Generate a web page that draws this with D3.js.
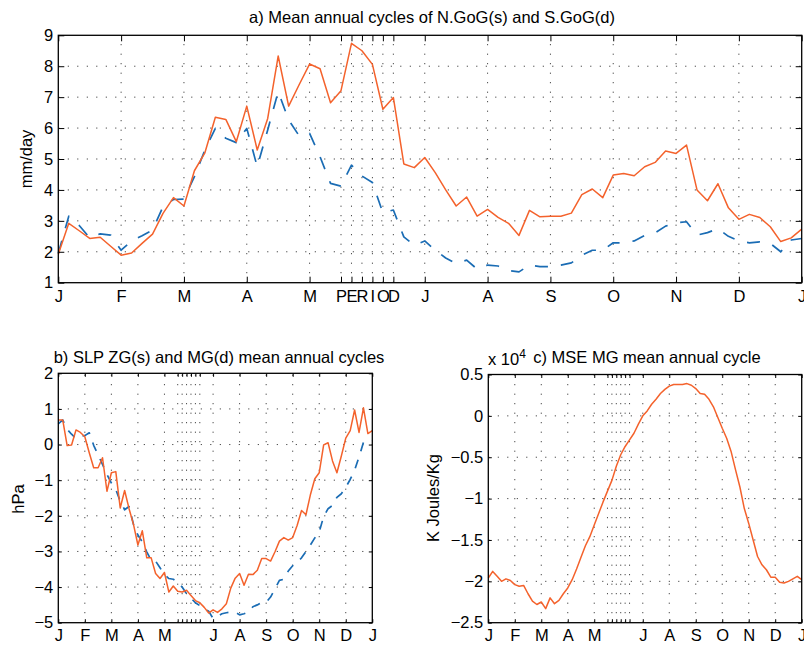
<!DOCTYPE html>
<html><head><meta charset="utf-8">
<script src="https://cdn.jsdelivr.net/npm/d3@7"></script>
<style>
body{margin:0;background:#fff}
svg{display:block}
text{font-family:"Liberation Sans",Arial,Helvetica,sans-serif;fill:#000}
</style>
</head><body>
<svg id="chart" width="804" height="645"></svg>
<script>
// ---- data: 72 sub-monthly steps (index 0..71) ----
const tickPos = [0,6,12,18,24,27,28,29,30,31,32,35,41,47,53,59,65,71];
const tickLabelsA = ["J","F","M","A","M","P","E","R","I","O","D","J","A","S","O","N","D","J"];
const tickLabelsBC = ["J","F","M","A","M","","","","","","","J","A","S","O","N","D","J"];

// a) rainfall mm/day
const nGoG = [1.92,2.92,2.68,2.43,2.47,2.18,1.89,1.96,2.27,2.57,
  3.24,3.75,3.48,4.62,5.20,6.35,6.28,5.56,6.71,5.29,
  6.31,8.33,6.71,7.40,8.07,7.92,6.82,7.21,8.74,8.50,
  8.06,6.61,6.99,4.84,4.72,5.05,4.56,4.00,3.48,3.77,
  3.15,3.37,3.11,2.92,2.53,3.34,3.13,3.15,3.15,3.25,
  3.85,4.03,3.75,4.48,4.53,4.46,4.75,4.89,5.26,5.18,
  5.45,4.00,3.65,4.20,3.42,3.05,3.21,3.11,2.81,2.33,
  2.45,2.73];
const sGoG = [1.95,3.15,2.85,2.45,2.58,2.54,2.05,2.35,2.52,2.70,
  3.46,3.69,3.70,4.43,5.29,5.99,5.67,5.53,5.99,4.75,
  5.94,7.18,6.26,5.75,5.83,5.07,4.21,4.12,4.80,4.45,
  4.24,3.26,3.35,2.48,2.21,2.35,2.05,1.80,1.62,1.73,
  1.44,1.57,1.54,1.39,1.35,1.57,1.52,1.52,1.57,1.64,
  1.89,2.05,2.05,2.29,2.29,2.35,2.53,2.61,2.83,2.94,
  2.97,2.54,2.62,2.75,2.50,2.35,2.29,2.32,2.27,2.00,
  2.38,2.43];
const yTicksA = [1,2,3,4,5,6,7,8,9];

// b) SLP hPa
const slpZG = [0.69,0.69,-0.03,-0.01,0.41,0.34,0.22,-0.23,-0.65,-0.65,
  -0.37,-1.31,-0.79,-0.76,-1.78,-1.29,-1.80,-2.24,-2.82,-2.42,
  -3.18,-3.18,-3.62,-3.76,-3.59,-4.14,-3.97,-4.12,-4.14,-4.09,
  -4.24,-4.38,-4.44,-4.57,-4.73,-4.64,-4.71,-4.61,-4.47,-4.03,
  -3.75,-3.62,-3.95,-3.64,-3.65,-3.53,-3.20,-3.20,-3.27,-3.01,
  -2.71,-2.61,-2.68,-2.61,-2.27,-1.85,-1.97,-1.41,-0.96,-0.79,
  -0.01,0.05,-0.46,-0.79,-0.32,0.18,0.39,0.97,0.34,1.03,
  0.31,0.39];
const slpMG = [0.58,0.69,0.43,0.29,0.17,0.23,0.25,0.33,-0.02,-0.29,
  -0.56,-0.84,-1.08,-1.26,-1.59,-1.83,-1.74,-2.24,-2.54,-2.73,
  -3.01,-3.25,-3.27,-3.46,-3.65,-3.76,-3.78,-3.86,-4.00,-4.19,
  -4.31,-4.44,-4.52,-4.61,-4.68,-4.88,-4.82,-4.75,-4.72,-4.70,
  -4.70,-4.78,-4.75,-4.70,-4.55,-4.50,-4.43,-4.43,-4.28,-4.05,
  -3.81,-3.78,-3.55,-3.40,-3.30,-3.18,-3.00,-2.82,-2.62,-2.45,
  -2.02,-1.80,-1.71,-1.48,-1.38,-1.20,-0.98,-0.72,-0.35,0.06,
  0.06,0.10];
const yTicksB = [-5,-4,-3,-2,-1,0,1,2];

// c) MSE, in units of 10^4 K Joules/Kg
const mseMG = [-1.96,-1.88,-1.94,-2.00,-1.97,-1.99,-2.04,-2.06,-2.05,-2.15,
  -2.24,-2.28,-2.25,-2.33,-2.20,-2.27,-2.23,-2.15,-2.08,-1.98,
  -1.85,-1.71,-1.57,-1.46,-1.32,-1.18,-1.04,-0.91,-0.78,-0.61,
  -0.47,-0.37,-0.29,-0.21,-0.10,0.00,0.06,0.14,0.20,0.27,
  0.32,0.36,0.38,0.38,0.38,0.39,0.37,0.33,0.27,0.26,
  0.20,0.11,-0.02,-0.15,-0.27,-0.43,-0.65,-0.86,-1.12,-1.30,
  -1.50,-1.70,-1.80,-1.86,-1.95,-1.95,-2.01,-2.02,-2.00,-1.97,
  -1.94,-1.98];
const yTicksC = [-2.5,-2,-1.5,-1,-0.5,0,0.5];

// ---- drawing ----
const ORANGE = "#f4622c", BLUE = "#1a6cb4";
const svg = d3.select("#chart");
const FS = 16.5;
const minus = s => String(s).replace("-", "\u2212");

function panel(o) {
  const x = d3.scaleLinear().domain([0,71]).range([o.l, o.r]);
  const y = d3.scaleLinear().domain(o.yDom).range([o.b, o.t]);
  const g = svg.append("g");
  // grid
  const gg = g.append("g").attr("stroke","#222").attr("stroke-width",1).attr("stroke-dasharray","1,8.5");
  tickPos.filter(d => d > 0 && d < 71).forEach(d => {
    gg.append("line").attr("x1",x(d)).attr("x2",x(d)).attr("y1",o.b).attr("y2",o.t);
  });
  o.yTicks.filter(d => d > o.yDom[0] && d < o.yDom[1]).forEach(d => {
    gg.append("line").attr("x1",o.l).attr("x2",o.r).attr("y1",y(d)).attr("y2",y(d));
  });
  // series
  const line = d3.line().x((d,i) => x(i)).y(d => y(d));
  o.series.forEach(s => {
    g.append("path").datum(s.v).attr("d", line).attr("fill","none")
      .attr("stroke", s.c).attr("stroke-width", s.w)
      .attr("stroke-dasharray", s.dash || null).attr("stroke-linejoin","round");
  });
  // axes
  const tl = o.tl;
  const ax = (gen, tr) => {
    const a = g.append("g").attr("transform", tr).call(gen);
    a.select(".domain").remove();
    a.selectAll(".tick line").attr("stroke","#000").attr("stroke-width",1);
    a.selectAll("text").attr("font-size", FS).attr("font-family","Liberation Sans, Arial, sans-serif").attr("fill","#000");
    return a;
  };
  ax(d3.axisBottom(x).tickValues(tickPos).tickFormat((d,i) => o.xLab[i]).tickSize(-tl).tickPadding(o.xPad),
     `translate(0,${o.b})`);
  ax(d3.axisTop(x).tickValues(tickPos).tickFormat("").tickSize(-tl), `translate(0,${o.t})`);
  ax(d3.axisLeft(y).tickValues(o.yTicks).tickFormat(d => minus(d)).tickSize(-tl).tickPadding(5),
     `translate(${o.l},0)`);
  ax(d3.axisRight(y).tickValues(o.yTicks).tickFormat("").tickSize(-tl), `translate(${o.r},0)`);
  g.append("rect").attr("x",o.l).attr("y",o.t).attr("width",o.r-o.l).attr("height",o.b-o.t)
    .attr("fill","none").attr("stroke","#000").attr("stroke-width",1.3);
  // title & y label
  g.append("text").attr("x", o.titleX).attr("y", o.titleY).attr("text-anchor","middle")
    .attr("font-size", FS).text(o.title);
  g.append("text").attr("transform", `translate(${o.ylX},${o.ylY}) rotate(-90)`)
    .attr("text-anchor","middle").attr("font-size", FS).text(o.ylabel);
  return {x, y, g};
}

panel({l:58.3, r:801.7, t:35.3, b:282.7, yDom:[1,9], yTicks:yTicksA, tl:6, xLab:tickLabelsA, xPad:7.5,
  series:[{v:sGoG, c:BLUE, w:1.7, dash:"13,13"}, {v:nGoG, c:ORANGE, w:1.5}],
  title:"a) Mean annual cycles of N.GoG(s) and S.GoG(d)", titleX:432, titleY:23,
  ylabel:"mm/day", ylX:32, ylY:159});

panel({l:58.3, r:372.3, t:373.3, b:622.7, yDom:[-5,2], yTicks:yTicksB, tl:3.5, xLab:tickLabelsBC, xPad:7,
  series:[{v:slpMG, c:BLUE, w:1.7, dash:"9,9"}, {v:slpZG, c:ORANGE, w:1.5}],
  title:"b) SLP ZG(s) and MG(d) mean annual cycles", titleX:219, titleY:363,
  ylabel:"hPa", ylX:24, ylY:499});

panel({l:488.3, r:801.7, t:374.5, b:622.7, yDom:[-2.5,0.5], yTicks:yTicksC, tl:3.5, xLab:tickLabelsBC, xPad:7,
  series:[{v:mseMG, c:ORANGE, w:1.5}],
  title:"c) MSE MG mean annual cycle", titleX:647, titleY:363,
  ylabel:"K Joules/Kg", ylX:438.5, ylY:498});

// exponent label
const ex = svg.append("text").attr("x", 488).attr("y", 365).attr("font-size", FS);
ex.append("tspan").text("x 10");
ex.append("tspan").attr("dy", -7).attr("font-size", 12).text("4");
</script>
</body></html>
